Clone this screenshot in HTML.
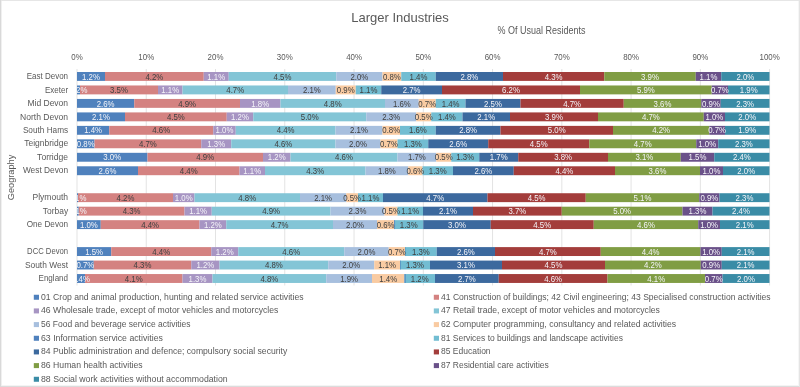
<!DOCTYPE html><html><head><meta charset="utf-8"><style>html,body{margin:0;padding:0;background:#fff;overflow:hidden}svg{display:block;will-change:transform}text{font-family:"Liberation Sans",sans-serif}</style></head><body>
<svg width="800" height="387" viewBox="0 0 800 387">
<rect x="0" y="0" width="800" height="387" fill="#fff"/>
<rect x="0" y="0" width="800" height="1" fill="#E6E6E6"/>
<rect x="0" y="386" width="800" height="1" fill="#DCDCDC"/>
<rect x="0" y="385" width="800" height="1" fill="#F4F4F4"/>
<rect x="0" y="0" width="1" height="387" fill="#D9D9D9"/>
<rect x="1" y="1" width="1" height="385" fill="#F0F0F0"/>
<rect x="799" y="0" width="1" height="387" fill="#E4E4E4"/>
<rect x="798" y="1" width="1" height="385" fill="#F6F6F6"/>
<text x="400" y="21.8" font-size="13" fill="#595959" text-anchor="middle">Larger Industries</text>
<text transform="translate(541.5,33.9) scale(0.9,1)" font-size="10" fill="#595959" text-anchor="middle">% Of Usual Residents</text>
<line x1="77.00" y1="69" x2="77.00" y2="285.5" stroke="#E3E3E3" stroke-width="1"/>
<text transform="translate(77.00,60.3) scale(0.88,1)" font-size="9" fill="#595959" text-anchor="middle">0%</text>
<line x1="146.26" y1="69" x2="146.26" y2="285.5" stroke="#E3E3E3" stroke-width="1"/>
<text transform="translate(146.26,60.3) scale(0.88,1)" font-size="9" fill="#595959" text-anchor="middle">10%</text>
<line x1="215.52" y1="69" x2="215.52" y2="285.5" stroke="#E3E3E3" stroke-width="1"/>
<text transform="translate(215.52,60.3) scale(0.88,1)" font-size="9" fill="#595959" text-anchor="middle">20%</text>
<line x1="284.78" y1="69" x2="284.78" y2="285.5" stroke="#E3E3E3" stroke-width="1"/>
<text transform="translate(284.78,60.3) scale(0.88,1)" font-size="9" fill="#595959" text-anchor="middle">30%</text>
<line x1="354.04" y1="69" x2="354.04" y2="285.5" stroke="#E3E3E3" stroke-width="1"/>
<text transform="translate(354.04,60.3) scale(0.88,1)" font-size="9" fill="#595959" text-anchor="middle">40%</text>
<line x1="423.30" y1="69" x2="423.30" y2="285.5" stroke="#E3E3E3" stroke-width="1"/>
<text transform="translate(423.30,60.3) scale(0.88,1)" font-size="9" fill="#595959" text-anchor="middle">50%</text>
<line x1="492.56" y1="69" x2="492.56" y2="285.5" stroke="#E3E3E3" stroke-width="1"/>
<text transform="translate(492.56,60.3) scale(0.88,1)" font-size="9" fill="#595959" text-anchor="middle">60%</text>
<line x1="561.82" y1="69" x2="561.82" y2="285.5" stroke="#E3E3E3" stroke-width="1"/>
<text transform="translate(561.82,60.3) scale(0.88,1)" font-size="9" fill="#595959" text-anchor="middle">70%</text>
<line x1="631.08" y1="69" x2="631.08" y2="285.5" stroke="#E3E3E3" stroke-width="1"/>
<text transform="translate(631.08,60.3) scale(0.88,1)" font-size="9" fill="#595959" text-anchor="middle">80%</text>
<line x1="700.34" y1="69" x2="700.34" y2="285.5" stroke="#E3E3E3" stroke-width="1"/>
<text transform="translate(700.34,60.3) scale(0.88,1)" font-size="9" fill="#595959" text-anchor="middle">90%</text>
<line x1="769.60" y1="69" x2="769.60" y2="285.5" stroke="#E3E3E3" stroke-width="1"/>
<text transform="translate(769.60,60.3) scale(0.88,1)" font-size="9" fill="#595959" text-anchor="middle">100%</text>
<defs><clipPath id="pc"><rect x="77" y="60" width="723" height="230"/></clipPath></defs>
<text x="26.7" y="79.10" font-size="8.6" fill="#595959" textLength="41.4" lengthAdjust="spacingAndGlyphs">East Devon</text>
<text x="44.9" y="92.57" font-size="8.6" fill="#595959" textLength="23.2" lengthAdjust="spacingAndGlyphs">Exeter</text>
<text x="27.4" y="106.04" font-size="8.6" fill="#595959" textLength="40.7" lengthAdjust="spacingAndGlyphs">Mid Devon</text>
<text x="20.1" y="119.51" font-size="8.6" fill="#595959" textLength="48.0" lengthAdjust="spacingAndGlyphs">North Devon</text>
<text x="22.9" y="132.98" font-size="8.6" fill="#595959" textLength="45.2" lengthAdjust="spacingAndGlyphs">South Hams</text>
<text x="24.3" y="146.45" font-size="8.6" fill="#595959" textLength="43.8" lengthAdjust="spacingAndGlyphs">Teignbridge</text>
<text x="37.1" y="159.92" font-size="8.6" fill="#595959" textLength="31.0" lengthAdjust="spacingAndGlyphs">Torridge</text>
<text x="22.9" y="173.39" font-size="8.6" fill="#595959" textLength="45.2" lengthAdjust="spacingAndGlyphs">West Devon</text>
<text x="32.5" y="200.33" font-size="8.6" fill="#595959" textLength="35.6" lengthAdjust="spacingAndGlyphs">Plymouth</text>
<text x="42.8" y="213.80" font-size="8.6" fill="#595959" textLength="25.3" lengthAdjust="spacingAndGlyphs">Torbay</text>
<text x="26.7" y="227.27" font-size="8.6" fill="#595959" textLength="41.4" lengthAdjust="spacingAndGlyphs">One Devon</text>
<text x="27.1" y="254.21" font-size="8.6" fill="#595959" textLength="41.0" lengthAdjust="spacingAndGlyphs">DCC Devon</text>
<text x="24.9" y="267.68" font-size="8.6" fill="#595959" textLength="43.2" lengthAdjust="spacingAndGlyphs">South West</text>
<text x="38.5" y="281.15" font-size="8.6" fill="#595959" textLength="29.6" lengthAdjust="spacingAndGlyphs">England</text>
<g><rect x="77.00" y="72.00" width="28.00" height="8.9" fill="#4F81BD"/><rect x="105.00" y="72.00" width="98.75" height="8.9" fill="#D48281"/><rect x="203.75" y="72.00" width="25.00" height="8.9" fill="#A795C3"/><rect x="228.75" y="72.00" width="107.50" height="8.9" fill="#83C5D6"/><rect x="336.25" y="72.00" width="46.25" height="8.9" fill="#A7BFDE"/><rect x="382.50" y="72.00" width="18.75" height="8.9" fill="#F9CBA2"/><rect x="401.25" y="72.00" width="34.50" height="8.9" fill="#72BDD2"/><rect x="435.75" y="72.00" width="67.25" height="8.9" fill="#3C699E"/><rect x="503.00" y="72.00" width="101.25" height="8.9" fill="#A33D3B"/><rect x="604.25" y="72.00" width="91.50" height="8.9" fill="#809D44"/><rect x="695.75" y="72.00" width="25.50" height="8.9" fill="#6A5189"/><rect x="721.25" y="72.00" width="48.25" height="8.9" fill="#3A8CA6"/><rect x="77.00" y="85.47" width="3.00" height="8.9" fill="#4F81BD"/><rect x="80.00" y="85.47" width="78.00" height="8.9" fill="#D48281"/><rect x="158.00" y="85.47" width="24.50" height="8.9" fill="#A795C3"/><rect x="182.50" y="85.47" width="105.50" height="8.9" fill="#83C5D6"/><rect x="288.00" y="85.47" width="47.75" height="8.9" fill="#A7BFDE"/><rect x="335.75" y="85.47" width="20.00" height="8.9" fill="#F9CBA2"/><rect x="355.75" y="85.47" width="25.50" height="8.9" fill="#72BDD2"/><rect x="381.25" y="85.47" width="60.75" height="8.9" fill="#3C699E"/><rect x="442.00" y="85.47" width="138.00" height="8.9" fill="#A33D3B"/><rect x="580.00" y="85.47" width="131.75" height="8.9" fill="#809D44"/><rect x="711.75" y="85.47" width="16.25" height="8.9" fill="#6A5189"/><rect x="728.00" y="85.47" width="41.50" height="8.9" fill="#3A8CA6"/><rect x="77.00" y="98.94" width="57.25" height="8.9" fill="#4F81BD"/><rect x="134.25" y="98.94" width="105.75" height="8.9" fill="#D48281"/><rect x="240.00" y="98.94" width="40.50" height="8.9" fill="#A795C3"/><rect x="280.50" y="98.94" width="104.50" height="8.9" fill="#83C5D6"/><rect x="385.00" y="98.94" width="33.75" height="8.9" fill="#A7BFDE"/><rect x="418.75" y="98.94" width="17.00" height="8.9" fill="#F9CBA2"/><rect x="435.75" y="98.94" width="29.75" height="8.9" fill="#72BDD2"/><rect x="465.50" y="98.94" width="55.00" height="8.9" fill="#3C699E"/><rect x="520.50" y="98.94" width="103.25" height="8.9" fill="#A33D3B"/><rect x="623.75" y="98.94" width="77.50" height="8.9" fill="#809D44"/><rect x="701.25" y="98.94" width="19.50" height="8.9" fill="#6A5189"/><rect x="720.75" y="98.94" width="48.75" height="8.9" fill="#3A8CA6"/><rect x="77.00" y="112.41" width="48.00" height="8.9" fill="#4F81BD"/><rect x="125.00" y="112.41" width="101.75" height="8.9" fill="#D48281"/><rect x="226.75" y="112.41" width="26.50" height="8.9" fill="#A795C3"/><rect x="253.25" y="112.41" width="113.00" height="8.9" fill="#83C5D6"/><rect x="366.25" y="112.41" width="50.00" height="8.9" fill="#A7BFDE"/><rect x="416.25" y="112.41" width="15.00" height="8.9" fill="#F9CBA2"/><rect x="431.25" y="112.41" width="31.25" height="8.9" fill="#72BDD2"/><rect x="462.50" y="112.41" width="47.50" height="8.9" fill="#3C699E"/><rect x="510.00" y="112.41" width="88.00" height="8.9" fill="#A33D3B"/><rect x="598.00" y="112.41" width="105.75" height="8.9" fill="#809D44"/><rect x="703.75" y="112.41" width="21.25" height="8.9" fill="#6A5189"/><rect x="725.00" y="112.41" width="44.50" height="8.9" fill="#3A8CA6"/><rect x="77.00" y="125.88" width="32.25" height="8.9" fill="#4F81BD"/><rect x="109.25" y="125.88" width="104.00" height="8.9" fill="#D48281"/><rect x="213.25" y="125.88" width="22.50" height="8.9" fill="#A795C3"/><rect x="235.75" y="125.88" width="99.75" height="8.9" fill="#83C5D6"/><rect x="335.50" y="125.88" width="47.00" height="8.9" fill="#A7BFDE"/><rect x="382.50" y="125.88" width="17.50" height="8.9" fill="#F9CBA2"/><rect x="400.00" y="125.88" width="35.75" height="8.9" fill="#72BDD2"/><rect x="435.75" y="125.88" width="64.75" height="8.9" fill="#3C699E"/><rect x="500.50" y="125.88" width="112.50" height="8.9" fill="#A33D3B"/><rect x="613.00" y="125.88" width="96.25" height="8.9" fill="#809D44"/><rect x="709.25" y="125.88" width="15.75" height="8.9" fill="#6A5189"/><rect x="725.00" y="125.88" width="44.50" height="8.9" fill="#3A8CA6"/><rect x="77.00" y="139.35" width="17.50" height="8.9" fill="#4F81BD"/><rect x="94.50" y="139.35" width="106.75" height="8.9" fill="#D48281"/><rect x="201.25" y="139.35" width="30.00" height="8.9" fill="#A795C3"/><rect x="231.25" y="139.35" width="104.25" height="8.9" fill="#83C5D6"/><rect x="335.50" y="139.35" width="45.00" height="8.9" fill="#A7BFDE"/><rect x="380.50" y="139.35" width="17.00" height="8.9" fill="#F9CBA2"/><rect x="397.50" y="139.35" width="30.75" height="8.9" fill="#72BDD2"/><rect x="428.25" y="139.35" width="60.00" height="8.9" fill="#3C699E"/><rect x="488.25" y="139.35" width="101.00" height="8.9" fill="#A33D3B"/><rect x="589.25" y="139.35" width="107.00" height="8.9" fill="#809D44"/><rect x="696.25" y="139.35" width="22.00" height="8.9" fill="#6A5189"/><rect x="718.25" y="139.35" width="51.25" height="8.9" fill="#3A8CA6"/><rect x="77.00" y="152.82" width="70.50" height="8.9" fill="#4F81BD"/><rect x="147.50" y="152.82" width="115.50" height="8.9" fill="#D48281"/><rect x="263.00" y="152.82" width="27.50" height="8.9" fill="#A795C3"/><rect x="290.50" y="152.82" width="107.00" height="8.9" fill="#83C5D6"/><rect x="397.50" y="152.82" width="38.75" height="8.9" fill="#A7BFDE"/><rect x="436.25" y="152.82" width="15.00" height="8.9" fill="#F9CBA2"/><rect x="451.25" y="152.82" width="28.00" height="8.9" fill="#72BDD2"/><rect x="479.25" y="152.82" width="39.00" height="8.9" fill="#3C699E"/><rect x="518.25" y="152.82" width="89.75" height="8.9" fill="#A33D3B"/><rect x="608.00" y="152.82" width="72.75" height="8.9" fill="#809D44"/><rect x="680.75" y="152.82" width="33.50" height="8.9" fill="#6A5189"/><rect x="714.25" y="152.82" width="55.25" height="8.9" fill="#3A8CA6"/><rect x="77.00" y="166.29" width="61.00" height="8.9" fill="#4F81BD"/><rect x="138.00" y="166.29" width="101.50" height="8.9" fill="#D48281"/><rect x="239.50" y="166.29" width="25.50" height="8.9" fill="#A795C3"/><rect x="265.00" y="166.29" width="100.50" height="8.9" fill="#83C5D6"/><rect x="365.50" y="166.29" width="42.75" height="8.9" fill="#A7BFDE"/><rect x="408.25" y="166.29" width="14.25" height="8.9" fill="#F9CBA2"/><rect x="422.50" y="166.29" width="30.50" height="8.9" fill="#72BDD2"/><rect x="453.00" y="166.29" width="60.75" height="8.9" fill="#3C699E"/><rect x="513.75" y="166.29" width="101.25" height="8.9" fill="#A33D3B"/><rect x="615.00" y="166.29" width="85.00" height="8.9" fill="#809D44"/><rect x="700.00" y="166.29" width="23.00" height="8.9" fill="#6A5189"/><rect x="723.00" y="166.29" width="46.50" height="8.9" fill="#3A8CA6"/><rect x="77.00" y="193.23" width="1.00" height="8.9" fill="#4F81BD"/><rect x="78.00" y="193.23" width="95.00" height="8.9" fill="#D48281"/><rect x="173.00" y="193.23" width="21.50" height="8.9" fill="#A795C3"/><rect x="194.50" y="193.23" width="105.50" height="8.9" fill="#83C5D6"/><rect x="300.00" y="193.23" width="46.25" height="8.9" fill="#A7BFDE"/><rect x="346.25" y="193.23" width="11.75" height="8.9" fill="#F9CBA2"/><rect x="358.00" y="193.23" width="25.00" height="8.9" fill="#72BDD2"/><rect x="383.00" y="193.23" width="104.50" height="8.9" fill="#3C699E"/><rect x="487.50" y="193.23" width="98.25" height="8.9" fill="#A33D3B"/><rect x="585.75" y="193.23" width="113.50" height="8.9" fill="#809D44"/><rect x="699.25" y="193.23" width="20.25" height="8.9" fill="#6A5189"/><rect x="719.50" y="193.23" width="50.00" height="8.9" fill="#3A8CA6"/><rect x="77.00" y="206.70" width="1.75" height="8.9" fill="#4F81BD"/><rect x="78.75" y="206.70" width="105.75" height="8.9" fill="#D48281"/><rect x="184.50" y="206.70" width="27.25" height="8.9" fill="#A795C3"/><rect x="211.75" y="206.70" width="118.75" height="8.9" fill="#83C5D6"/><rect x="330.50" y="206.70" width="54.00" height="8.9" fill="#A7BFDE"/><rect x="384.50" y="206.70" width="13.00" height="8.9" fill="#F9CBA2"/><rect x="397.50" y="206.70" width="25.50" height="8.9" fill="#72BDD2"/><rect x="423.00" y="206.70" width="50.00" height="8.9" fill="#3C699E"/><rect x="473.00" y="206.70" width="88.75" height="8.9" fill="#A33D3B"/><rect x="561.75" y="206.70" width="120.75" height="8.9" fill="#809D44"/><rect x="682.50" y="206.70" width="30.00" height="8.9" fill="#6A5189"/><rect x="712.50" y="206.70" width="57.00" height="8.9" fill="#3A8CA6"/><rect x="77.00" y="220.17" width="23.75" height="8.9" fill="#4F81BD"/><rect x="100.75" y="220.17" width="98.75" height="8.9" fill="#D48281"/><rect x="199.50" y="220.17" width="26.75" height="8.9" fill="#A795C3"/><rect x="226.25" y="220.17" width="106.75" height="8.9" fill="#83C5D6"/><rect x="333.00" y="220.17" width="44.00" height="8.9" fill="#A7BFDE"/><rect x="377.00" y="220.17" width="17.25" height="8.9" fill="#F9CBA2"/><rect x="394.25" y="220.17" width="29.00" height="8.9" fill="#72BDD2"/><rect x="423.25" y="220.17" width="67.50" height="8.9" fill="#3C699E"/><rect x="490.75" y="220.17" width="103.00" height="8.9" fill="#A33D3B"/><rect x="593.75" y="220.17" width="104.50" height="8.9" fill="#809D44"/><rect x="698.25" y="220.17" width="21.75" height="8.9" fill="#6A5189"/><rect x="720.00" y="220.17" width="49.50" height="8.9" fill="#3A8CA6"/><rect x="77.00" y="247.11" width="34.25" height="8.9" fill="#4F81BD"/><rect x="111.25" y="247.11" width="100.00" height="8.9" fill="#D48281"/><rect x="211.25" y="247.11" width="27.00" height="8.9" fill="#A795C3"/><rect x="238.25" y="247.11" width="106.00" height="8.9" fill="#83C5D6"/><rect x="344.25" y="247.11" width="44.50" height="8.9" fill="#A7BFDE"/><rect x="388.75" y="247.11" width="16.25" height="8.9" fill="#F9CBA2"/><rect x="405.00" y="247.11" width="31.75" height="8.9" fill="#72BDD2"/><rect x="436.75" y="247.11" width="58.25" height="8.9" fill="#3C699E"/><rect x="495.00" y="247.11" width="105.75" height="8.9" fill="#A33D3B"/><rect x="600.75" y="247.11" width="99.75" height="8.9" fill="#809D44"/><rect x="700.50" y="247.11" width="21.25" height="8.9" fill="#6A5189"/><rect x="721.75" y="247.11" width="47.75" height="8.9" fill="#3A8CA6"/><rect x="77.00" y="260.58" width="16.75" height="8.9" fill="#4F81BD"/><rect x="93.75" y="260.58" width="97.50" height="8.9" fill="#D48281"/><rect x="191.25" y="260.58" width="28.25" height="8.9" fill="#A795C3"/><rect x="219.50" y="260.58" width="108.75" height="8.9" fill="#83C5D6"/><rect x="328.25" y="260.58" width="46.00" height="8.9" fill="#A7BFDE"/><rect x="374.25" y="260.58" width="25.75" height="8.9" fill="#F9CBA2"/><rect x="400.00" y="260.58" width="30.00" height="8.9" fill="#72BDD2"/><rect x="430.00" y="260.58" width="72.00" height="8.9" fill="#3C699E"/><rect x="502.00" y="260.58" width="103.00" height="8.9" fill="#A33D3B"/><rect x="605.00" y="260.58" width="95.75" height="8.9" fill="#809D44"/><rect x="700.75" y="260.58" width="21.00" height="8.9" fill="#6A5189"/><rect x="721.75" y="260.58" width="47.75" height="8.9" fill="#3A8CA6"/><rect x="77.00" y="274.05" width="8.00" height="8.9" fill="#4F81BD"/><rect x="85.00" y="274.05" width="97.50" height="8.9" fill="#D48281"/><rect x="182.50" y="274.05" width="30.00" height="8.9" fill="#A795C3"/><rect x="212.50" y="274.05" width="113.75" height="8.9" fill="#83C5D6"/><rect x="326.25" y="274.05" width="45.75" height="8.9" fill="#A7BFDE"/><rect x="372.00" y="274.05" width="32.50" height="8.9" fill="#F9CBA2"/><rect x="404.50" y="274.05" width="30.50" height="8.9" fill="#72BDD2"/><rect x="435.00" y="274.05" width="63.75" height="8.9" fill="#3C699E"/><rect x="498.75" y="274.05" width="108.75" height="8.9" fill="#A33D3B"/><rect x="607.50" y="274.05" width="97.50" height="8.9" fill="#809D44"/><rect x="705.00" y="274.05" width="17.50" height="8.9" fill="#6A5189"/><rect x="722.50" y="274.05" width="47.00" height="8.9" fill="#3A8CA6"/><rect x="394.25" y="220.17" width="0.8" height="8.9" fill="#4F81BD"/><rect x="405.00" y="247.11" width="0.4" height="8.9" fill="#4F81BD"/><rect x="400.00" y="260.58" width="0.6" height="8.9" fill="#4F81BD"/><rect x="404.50" y="274.05" width="1.1" height="8.9" fill="#4F81BD"/></g>
<g clip-path="url(#pc)" font-size="8.7" text-anchor="middle"><text transform="translate(91.00,79.60) scale(0.9,1)" fill="#F4F4F8">1.2%</text><text transform="translate(154.38,79.60) scale(0.9,1)" fill="#404040">4.2%</text><text transform="translate(216.25,79.60) scale(0.9,1)" fill="#F4F4F8">1.1%</text><text transform="translate(282.50,79.60) scale(0.9,1)" fill="#404040">4.5%</text><text transform="translate(359.38,79.60) scale(0.9,1)" fill="#404040">2.0%</text><text transform="translate(391.88,79.60) scale(0.9,1)" fill="#404040">0.8%</text><text transform="translate(418.50,79.60) scale(0.9,1)" fill="#404040">1.4%</text><text transform="translate(469.38,79.60) scale(0.9,1)" fill="#F4F4F8">2.8%</text><text transform="translate(553.62,79.60) scale(0.9,1)" fill="#F4F4F8">4.3%</text><text transform="translate(650.00,79.60) scale(0.9,1)" fill="#F4F4F8">3.9%</text><text transform="translate(708.50,79.60) scale(0.9,1)" fill="#F4F4F8">1.1%</text><text transform="translate(745.38,79.60) scale(0.9,1)" fill="#F4F4F8">2.0%</text><text transform="translate(78.50,93.07) scale(0.9,1)" fill="#F4F4F8">0.2%</text><text transform="translate(119.00,93.07) scale(0.9,1)" fill="#404040">3.5%</text><text transform="translate(170.25,93.07) scale(0.9,1)" fill="#F4F4F8">1.1%</text><text transform="translate(235.25,93.07) scale(0.9,1)" fill="#404040">4.7%</text><text transform="translate(311.88,93.07) scale(0.9,1)" fill="#404040">2.1%</text><text transform="translate(345.75,93.07) scale(0.9,1)" fill="#404040">0.9%</text><text transform="translate(368.50,93.07) scale(0.9,1)" fill="#404040">1.1%</text><text transform="translate(411.62,93.07) scale(0.9,1)" fill="#F4F4F8">2.7%</text><text transform="translate(511.00,93.07) scale(0.9,1)" fill="#F4F4F8">6.2%</text><text transform="translate(645.88,93.07) scale(0.9,1)" fill="#F4F4F8">5.9%</text><text transform="translate(719.88,93.07) scale(0.9,1)" fill="#F4F4F8">0.7%</text><text transform="translate(748.75,93.07) scale(0.9,1)" fill="#F4F4F8">1.9%</text><text transform="translate(105.62,106.54) scale(0.9,1)" fill="#F4F4F8">2.6%</text><text transform="translate(187.12,106.54) scale(0.9,1)" fill="#404040">4.9%</text><text transform="translate(260.25,106.54) scale(0.9,1)" fill="#F4F4F8">1.8%</text><text transform="translate(332.75,106.54) scale(0.9,1)" fill="#404040">4.8%</text><text transform="translate(401.88,106.54) scale(0.9,1)" fill="#404040">1.6%</text><text transform="translate(427.25,106.54) scale(0.9,1)" fill="#404040">0.7%</text><text transform="translate(450.62,106.54) scale(0.9,1)" fill="#404040">1.4%</text><text transform="translate(493.00,106.54) scale(0.9,1)" fill="#F4F4F8">2.5%</text><text transform="translate(572.12,106.54) scale(0.9,1)" fill="#F4F4F8">4.7%</text><text transform="translate(662.50,106.54) scale(0.9,1)" fill="#F4F4F8">3.6%</text><text transform="translate(711.00,106.54) scale(0.9,1)" fill="#F4F4F8">0.9%</text><text transform="translate(745.12,106.54) scale(0.9,1)" fill="#F4F4F8">2.3%</text><text transform="translate(101.00,120.01) scale(0.9,1)" fill="#F4F4F8">2.1%</text><text transform="translate(175.88,120.01) scale(0.9,1)" fill="#404040">4.5%</text><text transform="translate(240.00,120.01) scale(0.9,1)" fill="#F4F4F8">1.2%</text><text transform="translate(309.75,120.01) scale(0.9,1)" fill="#404040">5.0%</text><text transform="translate(391.25,120.01) scale(0.9,1)" fill="#404040">2.3%</text><text transform="translate(423.75,120.01) scale(0.9,1)" fill="#404040">0.5%</text><text transform="translate(446.88,120.01) scale(0.9,1)" fill="#404040">1.4%</text><text transform="translate(486.25,120.01) scale(0.9,1)" fill="#F4F4F8">2.1%</text><text transform="translate(554.00,120.01) scale(0.9,1)" fill="#F4F4F8">3.9%</text><text transform="translate(650.88,120.01) scale(0.9,1)" fill="#F4F4F8">4.7%</text><text transform="translate(714.38,120.01) scale(0.9,1)" fill="#F4F4F8">1.0%</text><text transform="translate(747.25,120.01) scale(0.9,1)" fill="#F4F4F8">2.0%</text><text transform="translate(93.12,133.48) scale(0.9,1)" fill="#F4F4F8">1.4%</text><text transform="translate(161.25,133.48) scale(0.9,1)" fill="#404040">4.6%</text><text transform="translate(224.50,133.48) scale(0.9,1)" fill="#F4F4F8">1.0%</text><text transform="translate(285.62,133.48) scale(0.9,1)" fill="#404040">4.4%</text><text transform="translate(359.00,133.48) scale(0.9,1)" fill="#404040">2.1%</text><text transform="translate(391.25,133.48) scale(0.9,1)" fill="#404040">0.8%</text><text transform="translate(417.88,133.48) scale(0.9,1)" fill="#404040">1.6%</text><text transform="translate(468.12,133.48) scale(0.9,1)" fill="#F4F4F8">2.8%</text><text transform="translate(556.75,133.48) scale(0.9,1)" fill="#F4F4F8">5.0%</text><text transform="translate(661.12,133.48) scale(0.9,1)" fill="#F4F4F8">4.2%</text><text transform="translate(717.12,133.48) scale(0.9,1)" fill="#F4F4F8">0.7%</text><text transform="translate(747.25,133.48) scale(0.9,1)" fill="#F4F4F8">1.9%</text><text transform="translate(85.75,146.95) scale(0.9,1)" fill="#F4F4F8">0.8%</text><text transform="translate(147.88,146.95) scale(0.9,1)" fill="#404040">4.7%</text><text transform="translate(216.25,146.95) scale(0.9,1)" fill="#F4F4F8">1.3%</text><text transform="translate(283.38,146.95) scale(0.9,1)" fill="#404040">4.6%</text><text transform="translate(358.00,146.95) scale(0.9,1)" fill="#404040">2.0%</text><text transform="translate(389.00,146.95) scale(0.9,1)" fill="#404040">0.7%</text><text transform="translate(412.88,146.95) scale(0.9,1)" fill="#404040">1.3%</text><text transform="translate(458.25,146.95) scale(0.9,1)" fill="#F4F4F8">2.6%</text><text transform="translate(538.75,146.95) scale(0.9,1)" fill="#F4F4F8">4.5%</text><text transform="translate(642.75,146.95) scale(0.9,1)" fill="#F4F4F8">4.7%</text><text transform="translate(707.25,146.95) scale(0.9,1)" fill="#F4F4F8">1.0%</text><text transform="translate(743.88,146.95) scale(0.9,1)" fill="#F4F4F8">2.3%</text><text transform="translate(112.25,160.42) scale(0.9,1)" fill="#F4F4F8">3.0%</text><text transform="translate(205.25,160.42) scale(0.9,1)" fill="#404040">4.9%</text><text transform="translate(276.75,160.42) scale(0.9,1)" fill="#F4F4F8">1.2%</text><text transform="translate(344.00,160.42) scale(0.9,1)" fill="#404040">4.6%</text><text transform="translate(416.88,160.42) scale(0.9,1)" fill="#404040">1.7%</text><text transform="translate(443.75,160.42) scale(0.9,1)" fill="#404040">0.5%</text><text transform="translate(465.25,160.42) scale(0.9,1)" fill="#404040">1.3%</text><text transform="translate(498.75,160.42) scale(0.9,1)" fill="#F4F4F8">1.7%</text><text transform="translate(563.12,160.42) scale(0.9,1)" fill="#F4F4F8">3.8%</text><text transform="translate(644.38,160.42) scale(0.9,1)" fill="#F4F4F8">3.1%</text><text transform="translate(697.50,160.42) scale(0.9,1)" fill="#F4F4F8">1.5%</text><text transform="translate(741.88,160.42) scale(0.9,1)" fill="#F4F4F8">2.4%</text><text transform="translate(107.50,173.89) scale(0.9,1)" fill="#F4F4F8">2.6%</text><text transform="translate(188.75,173.89) scale(0.9,1)" fill="#404040">4.4%</text><text transform="translate(252.25,173.89) scale(0.9,1)" fill="#F4F4F8">1.1%</text><text transform="translate(315.25,173.89) scale(0.9,1)" fill="#404040">4.3%</text><text transform="translate(386.88,173.89) scale(0.9,1)" fill="#404040">1.8%</text><text transform="translate(415.38,173.89) scale(0.9,1)" fill="#404040">0.6%</text><text transform="translate(437.75,173.89) scale(0.9,1)" fill="#404040">1.3%</text><text transform="translate(483.38,173.89) scale(0.9,1)" fill="#F4F4F8">2.6%</text><text transform="translate(564.38,173.89) scale(0.9,1)" fill="#F4F4F8">4.4%</text><text transform="translate(657.50,173.89) scale(0.9,1)" fill="#F4F4F8">3.6%</text><text transform="translate(711.50,173.89) scale(0.9,1)" fill="#F4F4F8">1.0%</text><text transform="translate(746.25,173.89) scale(0.9,1)" fill="#F4F4F8">2.0%</text><text transform="translate(77.50,200.83) scale(0.9,1)" fill="#F4F4F8">0.1%</text><text transform="translate(125.50,200.83) scale(0.9,1)" fill="#404040">4.2%</text><text transform="translate(183.75,200.83) scale(0.9,1)" fill="#F4F4F8">1.0%</text><text transform="translate(247.25,200.83) scale(0.9,1)" fill="#404040">4.8%</text><text transform="translate(323.12,200.83) scale(0.9,1)" fill="#404040">2.1%</text><text transform="translate(352.12,200.83) scale(0.9,1)" fill="#404040">0.5%</text><text transform="translate(370.50,200.83) scale(0.9,1)" fill="#404040">1.1%</text><text transform="translate(435.25,200.83) scale(0.9,1)" fill="#F4F4F8">4.7%</text><text transform="translate(536.62,200.83) scale(0.9,1)" fill="#F4F4F8">4.5%</text><text transform="translate(642.50,200.83) scale(0.9,1)" fill="#F4F4F8">5.1%</text><text transform="translate(709.38,200.83) scale(0.9,1)" fill="#F4F4F8">0.9%</text><text transform="translate(744.50,200.83) scale(0.9,1)" fill="#F4F4F8">2.3%</text><text transform="translate(77.88,214.30) scale(0.9,1)" fill="#F4F4F8">0.1%</text><text transform="translate(131.62,214.30) scale(0.9,1)" fill="#404040">4.3%</text><text transform="translate(198.12,214.30) scale(0.9,1)" fill="#F4F4F8">1.1%</text><text transform="translate(271.12,214.30) scale(0.9,1)" fill="#404040">4.9%</text><text transform="translate(357.50,214.30) scale(0.9,1)" fill="#404040">2.3%</text><text transform="translate(391.00,214.30) scale(0.9,1)" fill="#404040">0.5%</text><text transform="translate(410.25,214.30) scale(0.9,1)" fill="#404040">1.1%</text><text transform="translate(448.00,214.30) scale(0.9,1)" fill="#F4F4F8">2.1%</text><text transform="translate(517.38,214.30) scale(0.9,1)" fill="#F4F4F8">3.7%</text><text transform="translate(622.12,214.30) scale(0.9,1)" fill="#F4F4F8">5.0%</text><text transform="translate(697.50,214.30) scale(0.9,1)" fill="#F4F4F8">1.3%</text><text transform="translate(741.00,214.30) scale(0.9,1)" fill="#F4F4F8">2.4%</text><text transform="translate(88.88,227.77) scale(0.9,1)" fill="#F4F4F8">1.0%</text><text transform="translate(150.12,227.77) scale(0.9,1)" fill="#404040">4.4%</text><text transform="translate(212.88,227.77) scale(0.9,1)" fill="#F4F4F8">1.2%</text><text transform="translate(279.62,227.77) scale(0.9,1)" fill="#404040">4.7%</text><text transform="translate(355.00,227.77) scale(0.9,1)" fill="#404040">2.0%</text><text transform="translate(385.62,227.77) scale(0.9,1)" fill="#404040">0.6%</text><text transform="translate(408.75,227.77) scale(0.9,1)" fill="#404040">1.3%</text><text transform="translate(457.00,227.77) scale(0.9,1)" fill="#F4F4F8">3.0%</text><text transform="translate(542.25,227.77) scale(0.9,1)" fill="#F4F4F8">4.5%</text><text transform="translate(646.00,227.77) scale(0.9,1)" fill="#F4F4F8">4.6%</text><text transform="translate(709.12,227.77) scale(0.9,1)" fill="#F4F4F8">1.0%</text><text transform="translate(744.75,227.77) scale(0.9,1)" fill="#F4F4F8">2.1%</text><text transform="translate(94.12,254.71) scale(0.9,1)" fill="#F4F4F8">1.5%</text><text transform="translate(161.25,254.71) scale(0.9,1)" fill="#404040">4.4%</text><text transform="translate(224.75,254.71) scale(0.9,1)" fill="#F4F4F8">1.2%</text><text transform="translate(291.25,254.71) scale(0.9,1)" fill="#404040">4.6%</text><text transform="translate(366.50,254.71) scale(0.9,1)" fill="#404040">2.0%</text><text transform="translate(396.88,254.71) scale(0.9,1)" fill="#404040">0.7%</text><text transform="translate(420.88,254.71) scale(0.9,1)" fill="#404040">1.3%</text><text transform="translate(465.88,254.71) scale(0.9,1)" fill="#F4F4F8">2.6%</text><text transform="translate(547.88,254.71) scale(0.9,1)" fill="#F4F4F8">4.7%</text><text transform="translate(650.62,254.71) scale(0.9,1)" fill="#F4F4F8">4.4%</text><text transform="translate(711.12,254.71) scale(0.9,1)" fill="#F4F4F8">1.0%</text><text transform="translate(745.62,254.71) scale(0.9,1)" fill="#F4F4F8">2.1%</text><text transform="translate(85.38,268.18) scale(0.9,1)" fill="#F4F4F8">0.7%</text><text transform="translate(142.50,268.18) scale(0.9,1)" fill="#404040">4.3%</text><text transform="translate(205.38,268.18) scale(0.9,1)" fill="#F4F4F8">1.2%</text><text transform="translate(273.88,268.18) scale(0.9,1)" fill="#404040">4.8%</text><text transform="translate(351.25,268.18) scale(0.9,1)" fill="#404040">2.0%</text><text transform="translate(387.12,268.18) scale(0.9,1)" fill="#404040">1.1%</text><text transform="translate(415.00,268.18) scale(0.9,1)" fill="#404040">1.3%</text><text transform="translate(466.00,268.18) scale(0.9,1)" fill="#F4F4F8">3.1%</text><text transform="translate(553.50,268.18) scale(0.9,1)" fill="#F4F4F8">4.5%</text><text transform="translate(652.88,268.18) scale(0.9,1)" fill="#F4F4F8">4.2%</text><text transform="translate(711.25,268.18) scale(0.9,1)" fill="#F4F4F8">0.9%</text><text transform="translate(745.62,268.18) scale(0.9,1)" fill="#F4F4F8">2.1%</text><text transform="translate(81.00,281.65) scale(0.9,1)" fill="#F4F4F8">0.4%</text><text transform="translate(133.75,281.65) scale(0.9,1)" fill="#404040">4.1%</text><text transform="translate(197.50,281.65) scale(0.9,1)" fill="#F4F4F8">1.3%</text><text transform="translate(269.38,281.65) scale(0.9,1)" fill="#404040">4.8%</text><text transform="translate(349.12,281.65) scale(0.9,1)" fill="#404040">1.9%</text><text transform="translate(388.25,281.65) scale(0.9,1)" fill="#404040">1.4%</text><text transform="translate(419.75,281.65) scale(0.9,1)" fill="#404040">1.2%</text><text transform="translate(466.88,281.65) scale(0.9,1)" fill="#F4F4F8">2.7%</text><text transform="translate(553.12,281.65) scale(0.9,1)" fill="#F4F4F8">4.6%</text><text transform="translate(656.25,281.65) scale(0.9,1)" fill="#F4F4F8">4.1%</text><text transform="translate(713.75,281.65) scale(0.9,1)" fill="#F4F4F8">0.7%</text><text transform="translate(746.00,281.65) scale(0.9,1)" fill="#F4F4F8">2.0%</text></g>
<text transform="translate(13.5,177.5) rotate(-90)" font-size="9.2" fill="#595959" text-anchor="middle">Geography</text>
<rect x="33.8" y="294.75" width="5.2" height="5" fill="#4F81BD"/>
<text x="41" y="299.75" font-size="8.6" fill="#595959" textLength="262.6" lengthAdjust="spacingAndGlyphs">01 Crop and animal production, hunting and related service activities</text>
<rect x="33.8" y="308.42" width="5.2" height="5" fill="#A795C3"/>
<text x="41" y="313.42" font-size="8.6" fill="#595959" textLength="237.4" lengthAdjust="spacingAndGlyphs">46 Wholesale trade, except of motor vehicles and motorcycles</text>
<rect x="33.8" y="322.09" width="5.2" height="5" fill="#A7BFDE"/>
<text x="41" y="327.09" font-size="8.6" fill="#595959" textLength="149.5" lengthAdjust="spacingAndGlyphs">56 Food and beverage service activities</text>
<rect x="33.8" y="335.76" width="5.2" height="5" fill="#4F81BD"/>
<text x="41" y="340.76" font-size="8.6" fill="#595959" textLength="121.9" lengthAdjust="spacingAndGlyphs">63 Information service activities</text>
<rect x="33.8" y="349.43" width="5.2" height="5" fill="#3C699E"/>
<text x="41" y="354.43" font-size="8.6" fill="#595959" textLength="246.2" lengthAdjust="spacingAndGlyphs">84 Public administration and defence; compulsory social security</text>
<rect x="33.8" y="363.10" width="5.2" height="5" fill="#809D44"/>
<text x="41" y="368.10" font-size="8.6" fill="#595959" textLength="101.7" lengthAdjust="spacingAndGlyphs">86 Human health activities</text>
<rect x="33.8" y="376.77" width="5.2" height="5" fill="#3A8CA6"/>
<text x="41" y="381.77" font-size="8.6" fill="#595959" textLength="186.7" lengthAdjust="spacingAndGlyphs">88 Social work activities without accommodation</text>
<rect x="433.8" y="294.75" width="5.2" height="5" fill="#D48281"/>
<text x="441" y="299.75" font-size="8.6" fill="#595959" textLength="329.6" lengthAdjust="spacingAndGlyphs">41 Construction of buildings; 42 Civil engineering; 43 Specialised construction activities</text>
<rect x="433.8" y="308.42" width="5.2" height="5" fill="#83C5D6"/>
<text x="441" y="313.42" font-size="8.6" fill="#595959" textLength="218.9" lengthAdjust="spacingAndGlyphs">47 Retail trade, except of motor vehicles and motorcycles</text>
<rect x="433.8" y="322.09" width="5.2" height="5" fill="#F9CBA2"/>
<text x="441" y="327.09" font-size="8.6" fill="#595959" textLength="235.1" lengthAdjust="spacingAndGlyphs">62 Computer programming, consultancy and related activities</text>
<rect x="433.8" y="335.76" width="5.2" height="5" fill="#72BDD2"/>
<text x="441" y="340.76" font-size="8.6" fill="#595959" textLength="181.9" lengthAdjust="spacingAndGlyphs">81 Services to buildings and landscape activities</text>
<rect x="433.8" y="349.43" width="5.2" height="5" fill="#A33D3B"/>
<text x="441" y="354.43" font-size="8.6" fill="#595959" textLength="49.6" lengthAdjust="spacingAndGlyphs">85 Education</text>
<rect x="433.8" y="363.10" width="5.2" height="5" fill="#6A5189"/>
<text x="441" y="368.10" font-size="8.6" fill="#595959" textLength="107.8" lengthAdjust="spacingAndGlyphs">87 Residential care activities</text>
</svg></body></html>
